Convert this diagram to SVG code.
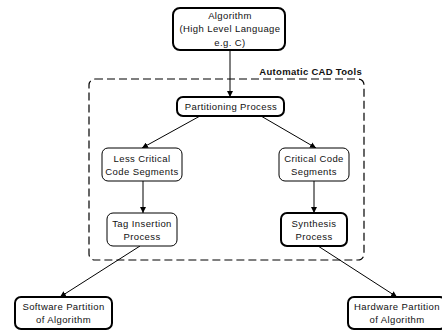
<svg xmlns="http://www.w3.org/2000/svg" width="442" height="331" viewBox="0 0 442 331">
<defs>
<marker id="ah" viewBox="0 0 10 10" refX="10" refY="5" markerWidth="6" markerHeight="6" markerUnits="userSpaceOnUse" orient="auto">
<path d="M0,0 L10,5 L0,10 z" fill="#000"/>
</marker>
<style>
.thick{fill:#fff;stroke:#000;stroke-width:2}
.thin{fill:#fff;stroke:#000;stroke-width:1}
text{font-family:"Liberation Sans",Arial,sans-serif;font-size:9.5px;letter-spacing:0.4px;fill:#111;text-anchor:middle}
.lbl{font-weight:bold;text-anchor:end;letter-spacing:0.3px}
.conn{stroke:#000;stroke-width:1;fill:none}
.dash{fill:none;stroke:#000;stroke-width:1.2;stroke-dasharray:8 4}
</style>
</defs>
<rect x="0" y="0" width="442" height="331" fill="#fff"/>
<g id="cad-tools">
<rect class="dash" x="89" y="79" width="275" height="181" rx="6"/>
<text class="lbl" x="362" y="75">Automatic CAD Tools</text>
</g>
<g id="connectors">
<line class="conn" x1="230" y1="50" x2="230" y2="97" marker-end="url(#ah)"/>
<line class="conn" x1="200" y1="116" x2="142" y2="148" marker-end="url(#ah)"/>
<line class="conn" x1="261" y1="116" x2="316" y2="148" marker-end="url(#ah)"/>
<line class="conn" x1="143" y1="181" x2="143" y2="213" marker-end="url(#ah)"/>
<line class="conn" x1="314" y1="181" x2="314" y2="213" marker-end="url(#ah)"/>
<line class="conn" x1="140" y1="246" x2="60" y2="297" marker-end="url(#ah)"/>
<line class="conn" x1="318" y1="246" x2="397" y2="297" marker-end="url(#ah)"/>
</g>
<g id="algorithm">
<rect class="thick" x="173" y="8" width="112" height="42" rx="7"/>
<text x="230" y="18.5">Algorithm</text>
<text x="230" y="32">(High Level Language</text>
<text x="230" y="45.5">e.g. C)</text>
</g>
<g id="partitioning">
<rect class="thick" x="177" y="97" width="107" height="19" rx="6"/>
<text x="231" y="110">Partitioning Process</text>
</g>
<g id="less-critical">
<rect class="thin" x="102" y="148" width="80" height="33" rx="6"/>
<text x="142" y="161.5">Less Critical</text>
<text x="142" y="174.5">Code Segments</text>
</g>
<g id="critical">
<rect class="thin" x="279" y="148" width="70" height="33" rx="6"/>
<text x="314" y="161.5">Critical Code</text>
<text x="314" y="174.5">Segments</text>
</g>
<g id="tag-insertion">
<rect class="thin" x="107" y="213" width="70" height="33" rx="6"/>
<text x="142" y="226.5">Tag Insertion</text>
<text x="142" y="239.5">Process</text>
</g>
<g id="synthesis">
<rect class="thick" x="281" y="213" width="66" height="33" rx="6"/>
<text x="314" y="226.5">Synthesis</text>
<text x="314" y="239.5">Process</text>
</g>
<g id="software">
<rect class="thick" x="15" y="297" width="97" height="32" rx="6"/>
<text x="63.5" y="309.5">Software Partition</text>
<text x="63.5" y="322.5">of Algorithm</text>
</g>
<g id="hardware">
<rect class="thick" x="348" y="297" width="98" height="32" rx="6"/>
<text x="397" y="309.5">Hardware Partition</text>
<text x="397" y="322.5">of Algorithm</text>
</g>
</svg>
